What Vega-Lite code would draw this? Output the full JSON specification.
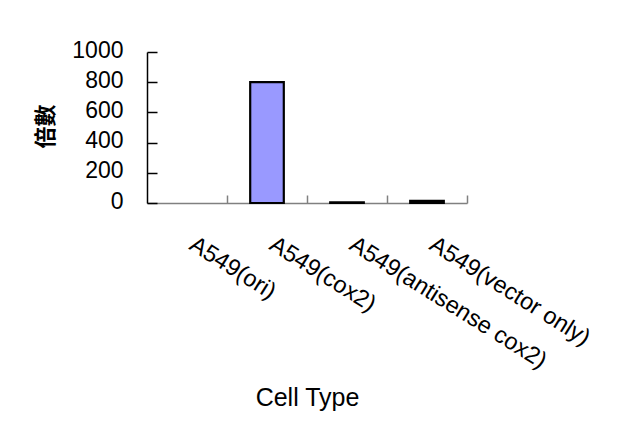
{
  "$schema": "https://vega.github.io/schema/vega-lite/v6.json",
  "autosize": {"type": "none"},
  "width": 320,
  "height": 151,
  "padding": {"left": 147, "top": 52, "right": 161, "bottom": 234},
  "background": "white",
  "config": {
    "view": {"stroke": null},
    "font": "Liberation Sans"
  },
  "data": {
    "values": [
      {"cell": "A549(ori)", "fold": 0},
      {"cell": "A549(cox2)", "fold": 800},
      {"cell": "A549(antisense cox2)", "fold": 5},
      {"cell": "A549(vector only)", "fold": 14}
    ]
  },
  "mark": {
    "type": "bar",
    "fill": "#9999FF",
    "stroke": "black",
    "width": {"band": 0.42}
  },
  "encoding": {
    "x": {
      "field": "cell",
      "type": "nominal",
      "sort": null,
      "scale": {"paddingInner": 0, "paddingOuter": 0},
      "axis": {
        "title": "Cell Type",
        "titleFont": "Liberation Sans",
        "titleFontSize": 25,
        "titleFontWeight": "normal",
        "titleColor": "black",
        "titleX": 160,
        "titleY": 194,
        "titleBaseline": "middle",
        "labelFont": "Liberation Sans",
        "labelAngle": 32,
        "labelAlign": "left",
        "labelBaseline": "top",
        "labelFontSize": 23.5,
        "labelColor": "black",
        "labelPadding": 37,
        "labelOffset": 11,
        "labelOverlap": false,
        "labelLimit": 400,
        "bandPosition": 1,
        "tickSize": -8,
        "tickColor": "#808080",
        "domainColor": "#808080",
        "domainWidth": 1.5,
        "tickWidth": 1.5
      }
    },
    "y": {
      "field": "fold",
      "type": "quantitative",
      "scale": {"domain": [0, 1000], "nice": false},
      "axis": {
        "title": "倍數",
        "titleFont": "Noto Sans CJK TC",
        "titleFontSize": 22,
        "titleFontWeight": "bold",
        "titleColor": "black",
        "titleAngle": -90,
        "titleX": -102,
        "titleY": 74,
        "titleAlign": "center",
        "titleBaseline": "middle",
        "values": [0, 200, 400, 600, 800, 1000],
        "format": "d",
        "labelFont": "Liberation Sans",
        "labelFontSize": 23,
        "labelColor": "black",
        "labelPadding": 34,
        "labelOffset": -2,
        "tickSize": -10,
        "tickColor": "black",
        "tickWidth": 1.5,
        "domainColor": "black",
        "domainWidth": 1.5,
        "grid": false
      }
    },
    "strokeWidth": {
      "condition": {"test": "datum.fold > 0", "value": 2.2},
      "value": 0
    }
  }
}
